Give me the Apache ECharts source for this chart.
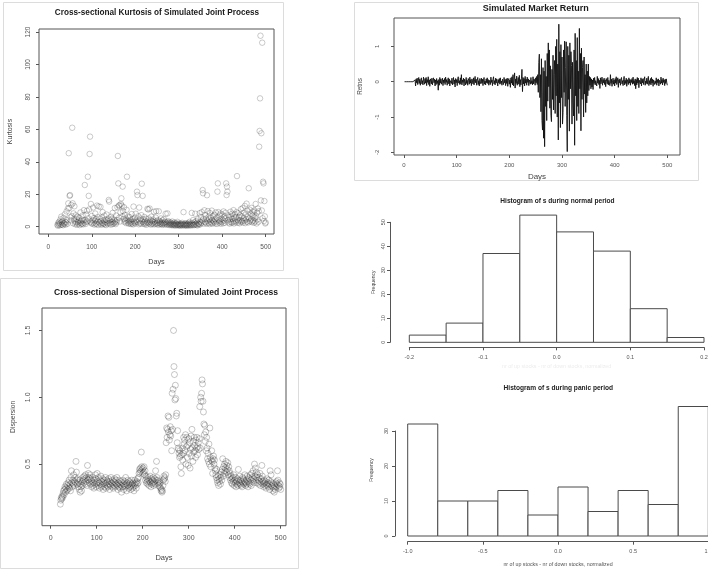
<!DOCTYPE html>
<html><head><meta charset="utf-8">
<script src="https://cdn.jsdelivr.net/npm/echarts@6/dist/echarts.min.js"></script>
<style>html,body{margin:0;padding:0;background:#fff}#c{width:708px;height:571px}</style>
</head><body><div id="c"></div>
<script>
// ---------------- data ----------------
const kurtStartDay = 21;
const kurtosis = [
1.2,0.6,2.4,1.5,3.0,0.8,2.1,4.5,1.1,6.2,
2.8,1.4,3.6,0.9,5.4,2.2,1.7,7.6,3.0,1.3,
2.6,9.4,4.1,1.8,11.2,14.4,45.3,11.4,19.0,19.5,
5.8,3.9,13.4,6.5,61.0,14.4,2.1,8.2,4.6,12.6,
3.2,1.5,7.0,2.6,4.8,1.2,6.1,2.9,1.9,3.7,
5.5,1.0,2.4,8.8,3.3,1.6,4.4,2.0,6.9,1.4,
3.8,10.2,2.5,25.7,4.1,1.7,7.4,2.9,9.8,3.5,
30.8,5.2,19.0,10.6,44.8,55.5,3.1,14.0,2.2,6.6,
1.8,4.0,11.8,2.6,5.3,1.3,3.7,8.1,2.0,4.6,
1.5,13.0,3.2,6.0,1.1,12.5,2.7,4.9,1.9,12.2,
3.4,1.2,5.7,2.3,9.0,1.6,3.9,2.1,6.8,1.4,
2.9,4.3,1.0,7.5,2.5,3.6,1.8,5.0,16.5,15.5,
2.2,3.9,1.3,6.2,2.8,4.7,1.5,8.5,3.0,1.9,
4.4,2.4,11.5,3.3,1.6,6.9,2.7,4.1,12.0,43.6,
26.7,13.0,5.5,13.2,3.2,8.8,14.0,17.5,13.0,6.4,
24.7,9.6,4.8,12.0,2.9,7.2,3.6,5.1,2.2,10.4,
30.8,4.0,2.6,6.3,1.8,3.5,5.9,2.3,4.2,1.6,
3.0,7.8,2.0,4.6,1.4,12.4,3.3,2.5,5.6,1.9,
8.0,3.1,4.2,21.6,19.5,2.7,6.4,1.5,11.8,3.8,
2.3,5.0,1.7,7.1,26.5,3.2,19.0,4.5,1.9,2.8,
6.0,1.5,3.7,2.2,4.9,1.2,3.0,11.0,2.4,10.6,
5.1,1.8,11.2,2.9,4.0,1.3,6.2,2.1,3.5,1.6,
4.4,2.7,9.2,1.4,3.1,2.0,5.6,9.6,1.8,3.6,
2.3,1.2,4.0,9.5,2.6,1.5,3.3,2.0,5.1,1.7,
2.8,1.1,3.9,2.2,1.6,4.6,2.4,1.3,3.0,8.0,
1.9,2.7,1.2,8.2,3.4,1.6,2.3,1.0,2.9,1.8,
1.3,2.4,0.9,1.7,3.2,1.1,2.0,0.8,1.5,2.6,
1.0,1.8,0.7,2.2,1.4,0.9,3.0,1.2,1.6,0.8,
2.0,1.1,0.6,1.5,1.9,0.9,1.3,2.4,0.8,1.6,
9.0,1.2,0.7,1.8,1.0,2.1,0.9,1.4,0.6,1.7,
1.1,2.3,0.8,1.5,3.0,1.0,1.9,0.7,1.3,8.5,
2.2,1.0,4.1,1.6,0.9,2.8,1.2,8.0,1.8,3.4,
1.1,2.5,0.8,4.6,1.7,2.0,1.3,8.3,3.0,1.5,
6.0,2.4,9.0,3.8,22.6,20.6,4.9,1.9,10.1,3.1,
7.2,2.6,5.0,1.8,19.4,3.7,9.6,2.3,6.1,4.4,
1.6,8.4,3.0,5.7,2.2,9.9,4.1,1.9,6.6,3.5,
2.8,7.3,4.6,2.0,8.8,3.2,5.4,1.7,21.6,26.7,
9.0,4.0,2.5,6.9,3.3,8.1,1.8,5.0,2.9,7.5,
4.2,2.1,9.4,3.6,6.3,2.4,5.1,8.6,26.7,19.5,
24.7,21.6,3.9,7.0,2.6,5.8,1.9,4.5,9.2,3.0,
6.4,2.3,8.0,4.7,3.1,10.2,2.0,5.5,7.7,3.6,
2.7,6.1,9.0,31.2,4.2,2.4,8.3,3.4,5.9,2.1,
7.1,4.0,10.8,2.9,6.5,3.6,11.5,2.5,5.3,8.7,
3.8,12.8,2.2,7.6,4.5,14.2,3.1,9.8,6.0,2.6,
23.7,5.1,10.5,3.4,8.0,4.3,11.6,2.8,6.7,9.3,
3.7,7.4,2.4,10.0,5.6,3.2,14.0,6.3,2.0,8.6,
4.4,11.2,3.0,9.5,49.3,59.0,79.1,117.7,16.2,57.6,
10.0,113.4,5.2,27.7,26.7,3.5,15.8,6.4,2.0,2.6
];

const dispStartDay = 21;
const dispersion = [
0.20,0.23,0.25,0.24,0.26,0.25,0.28,0.30,0.27,0.31,
0.33,0.29,0.32,0.35,0.30,0.34,0.31,0.36,0.33,0.38,
0.32,0.35,0.30,0.40,0.45,0.36,0.33,0.38,0.35,0.42,
0.34,0.37,0.40,0.36,0.52,0.44,0.38,0.35,0.39,0.33,
0.36,0.31,0.38,0.29,0.35,0.33,0.30,0.37,0.34,0.40,
0.38,0.36,0.41,0.39,0.35,0.42,0.37,0.40,0.34,0.49,
0.38,0.43,0.40,0.36,0.39,0.42,0.35,0.38,0.33,0.37,
0.40,0.34,0.36,0.32,0.38,0.35,0.42,0.39,0.33,0.36,
0.43,0.37,0.34,0.40,0.36,0.32,0.38,0.35,0.41,0.33,
0.37,0.34,0.39,0.31,0.36,0.38,0.33,0.35,0.40,0.32,
0.36,0.38,0.34,0.37,0.33,0.39,0.35,0.31,0.37,0.34,
0.40,0.36,0.33,0.38,0.35,0.32,0.37,0.34,0.39,0.36,
0.33,0.38,0.35,0.40,0.34,0.31,0.36,0.33,0.38,0.35,
0.32,0.37,0.34,0.29,0.36,0.33,0.38,0.35,0.31,0.34,
0.37,0.33,0.40,0.35,0.30,0.36,0.34,0.38,0.32,0.35,
0.37,0.33,0.36,0.31,0.34,0.38,0.35,0.32,0.36,0.33,
0.30,0.35,0.38,0.34,0.36,0.32,0.37,0.35,0.39,0.36,
0.40,0.43,0.46,0.44,0.47,0.45,0.59,0.48,0.46,0.43,
0.47,0.44,0.48,0.42,0.45,0.38,0.41,0.36,0.39,0.37,
0.35,0.40,0.38,0.34,0.37,0.41,0.36,0.33,0.39,0.35,
0.38,0.36,0.40,0.34,0.37,0.39,0.35,0.45,0.38,0.52,
0.40,0.36,0.38,0.34,0.37,0.35,0.33,0.36,0.32,0.30,
0.31,0.29,0.30,0.34,0.38,0.41,0.39,0.40,0.37,0.42,
0.66,0.77,0.70,0.76,0.86,0.74,0.85,0.68,0.72,0.78,
0.71,0.75,0.60,1.03,0.76,1.06,1.50,1.23,1.17,0.98,
1.09,0.99,0.86,0.88,0.66,0.75,0.62,0.61,0.58,0.55,
0.60,0.56,0.48,0.43,0.57,0.62,0.53,0.58,0.70,0.65,
0.68,0.60,0.72,0.50,0.63,0.70,0.55,0.64,0.49,0.69,
0.58,0.66,0.47,0.61,0.71,0.56,0.76,0.62,0.52,0.67,
0.59,0.70,0.64,0.60,0.55,0.68,0.62,0.70,0.57,0.63,
0.66,0.61,0.69,0.93,0.62,1.00,0.97,1.03,1.13,1.10,
0.97,0.89,0.80,0.72,0.79,0.67,0.74,0.60,0.70,0.62,
0.54,0.58,0.52,0.65,0.50,0.77,0.55,0.48,0.53,0.60,
0.52,0.43,0.54,0.56,0.50,0.53,0.47,0.45,0.42,0.40,
0.46,0.38,0.36,0.41,0.34,0.39,0.37,0.42,0.35,0.40,
0.44,0.38,0.46,0.54,0.41,0.48,0.43,0.50,0.45,0.47,
0.52,0.44,0.49,0.46,0.51,0.42,0.48,0.45,0.40,0.43,
0.38,0.41,0.36,0.39,0.35,0.40,0.37,0.42,0.34,0.38,
0.36,0.40,0.33,0.37,0.35,0.39,0.34,0.46,0.38,0.36,
0.41,0.35,0.38,0.34,0.37,0.33,0.40,0.36,0.39,0.35,
0.37,0.42,0.36,0.34,0.38,0.35,0.41,0.37,0.33,0.40,
0.36,0.39,0.35,0.42,0.38,0.34,0.43,0.40,0.37,0.45,
0.39,0.36,0.50,0.41,0.47,0.38,0.44,0.40,0.36,0.42,
0.38,0.35,0.40,0.37,0.43,0.34,0.39,0.36,0.49,0.41,
0.37,0.35,0.33,0.38,0.36,0.34,0.37,0.32,0.35,0.39,
0.34,0.36,0.33,0.38,0.35,0.31,0.45,0.37,0.42,0.34,
0.36,0.33,0.30,0.35,0.32,0.29,0.34,0.31,0.36,0.33,
0.37,0.35,0.45,0.38,0.34,0.32,0.36,0.33,0.35,0.31
];

const retStartDay = 1;
const marketReturn = [
0,0,0,0,0,0,0,0,0,0,
0,0,0,0,0,0,0,0,0,0,
0.05,-0.12,0.08,-0.03,0.10,-0.08,0.02,0.12,-0.05,0.07,
-0.10,0.04,0.11,-0.06,0.03,-0.09,0.13,0.01,-0.07,0.09,
-0.04,0.12,-0.11,0.06,-0.02,0.14,-0.08,0.05,-0.13,0.08,
0.02,-0.06,0.10,-0.09,0.04,0.11,-0.03,0.07,-0.12,0.05,
-0.08,0.09,-0.05,0.03,-0.24,0.06,-0.10,0.12,-0.04,0.08,
-0.07,0.02,0.10,-0.11,0.05,-0.03,0.09,-0.08,0.13,-0.02,
0.06,-0.10,0.04,0.11,-0.06,0.08,-0.12,0.03,0.07,-0.05,
0.10,-0.09,0.02,0.12,-0.07,0.05,-0.15,0.09,-0.03,0.06,
-0.11,0.08,0.14,-0.04,0.03,-0.08,0.11,-0.06,0.20,-0.09,
0.05,-0.02,0.10,-0.12,0.07,0.01,-0.09,0.12,-0.05,0.04,
-0.10,0.09,0.03,-0.07,0.13,-0.04,0.06,-0.11,0.08,0.02,
-0.06,0.11,-0.09,0.05,0.15,-0.03,0.07,-0.10,0.04,0.12,
-0.08,0.03,-0.12,0.09,0.01,-0.06,0.10,-0.04,0.07,-0.11,
0.05,0.12,-0.07,0.02,-0.09,0.08,-0.03,0.11,-0.05,0.06,
-0.10,0.04,0.09,-0.08,0.13,-0.02,0.05,-0.11,0.07,0.14,
-0.06,0.03,-0.09,0.10,-0.04,0.08,0.01,-0.12,0.06,-0.03,
0.09,-0.07,0.11,-0.05,0.02,-0.10,0.07,0.04,-0.08,0.12,
-0.03,0.06,-0.11,0.08,-0.05,0.10,-0.13,0.03,0.09,-0.07,
0.05,-0.16,0.11,-0.04,0.14,-0.09,0.20,-0.12,0.06,0.25,
-0.18,0.08,-0.05,0.16,-0.10,0.03,0.12,-0.07,0.18,-0.14,
0.06,-0.09,0.10,0.35,-0.28,0.12,-0.06,0.09,-0.12,0.15,
-0.04,0.07,-0.10,0.13,-0.02,0.08,-0.11,0.05,0.10,-0.07,
0.12,-0.05,0.03,-0.09,0.14,-0.06,0.08,0.02,-0.10,0.11,
-0.03,0.15,-0.08,0.20,
-0.30,0.55,0.78,-0.45,0.20,-0.85,0.65,-1.10,-1.37,0.40,
-1.60,0.30,-1.84,0.60,-0.70,0.15,-1.10,0.80,-0.55,1.10,
-0.14,0.90,-0.75,0.45,-0.95,-1.13,0.35,-0.50,0.75,-0.80,
0.20,0.60,-0.90,1.00,-0.40,1.20,-1.00,0.50,-1.65,1.63,
-0.60,0.85,-1.30,1.05,-0.45,0.70,-1.20,-0.87,0.90,-0.30,
1.15,-0.70,0.40,1.13,-0.95,-1.98,1.00,-0.50,0.75,-1.40,
1.10,-0.20,0.85,0.46,-1.20,0.55,-0.60,-0.97,0.90,-1.80,
1.37,-0.40,0.60,-1.10,1.25,-0.70,0.30,-0.90,1.51,-0.20,
0.80,-1.39,0.95,-0.50,0.40,0.60,-1.00,0.70,-0.35,0.20,
-0.87,0.50,-0.60,0.30,-0.40,0.50,-0.25,0.15,-0.10,0.12,
-0.20,0.08,-0.15,0.05,-0.22,0.10,
-0.05,0.12,-0.09,0.03,0.07,-0.12,0.15,-0.04,0.09,-0.08,
0.04,-0.19,0.11,-0.06,0.02,0.13,-0.10,0.06,-0.03,0.10,
-0.08,0.05,-0.14,0.09,0.01,-0.06,0.12,-0.09,0.04,0.08,
-0.11,0.20,-0.05,0.07,-0.13,0.03,0.10,-0.07,0.05,-0.12,
0.09,-0.04,0.14,-0.08,0.02,0.11,-0.16,0.06,-0.03,0.08,
-0.10,0.05,0.12,-0.06,0.03,-0.11,0.07,0.15,-0.09,0.04,
-0.05,0.10,-0.13,0.06,0.01,-0.08,0.11,-0.04,0.07,-0.10,
0.05,-0.02,0.09,-0.07,0.13,-0.05,0.03,-0.11,0.08,-0.20,
0.06,-0.09,0.12,-0.04,0.10,-0.17,0.04,0.08,-0.06,0.11,
-0.12,0.07,-0.03,0.09,-0.08,0.05,0.14,-0.10,0.02,-0.05,
0.10,-0.07,0.06,0.15,-0.11,0.03,-0.06,0.09,-0.09,0.12,
-0.04,0.07,-0.13,0.05,0.10,-0.08,0.02,-0.05,0.11,-0.10,
0.06,-0.03,0.08,-0.12,0.04,0.09,-0.07,0.13,-0.04,0.06,
-0.09,0.10,-0.02,0.05,-0.11,0.07,-0.05,0.08,-0.03,-0.10
];

const dayTicks = [0, 100, 200, 300, 400, 500];
const kurtTicks = [0, 20, 40, 60, 80, 100, 120];
const dispTicks = [0.5, 1.0, 1.5];
const retTicks = [-2, -1, 0, 1];

const normalBinEdges = [-0.2, -0.15, -0.1, -0.05, 0, 0.05, 0.1, 0.15, 0.2];
const normalCounts = [3, 8, 37, 53, 46, 38, 14, 2];
const normalXTicks = [-0.2, -0.1, 0, 0.1, 0.2];
const normalYTicks = [0, 10, 20, 30, 40, 50];

const panicBinEdges = [-1, -0.8, -0.6, -0.4, -0.2, 0, 0.2, 0.4, 0.6, 0.8, 1];
const panicCounts = [32, 10, 10, 13, 6, 14, 7, 13, 9, 37];
const panicXTicks = [-1, -0.5, 0, 0.5, 1];
const panicYTicks = [0, 10, 20, 30];

const titles = {
  kurt: 'Cross-sectional Kurtosis of Simulated Joint Process',
  disp: 'Cross-sectional Dispersion of Simulated Joint Process',
  ret: 'Simulated Market Return',
  normal: 'Histogram of s during normal period',
  panic: 'Histogram of s during panic period'
};
const xName = 'nr of up stocks - nr of down stocks, normalized';

// ---------------- chart ----------------
const F = '"Liberation Sans", Arial, Helvetica, sans-serif';
const fmt1 = v => Number(v).toFixed(1);

function mkAxis(o) {
  return {
    type: 'value', gridIndex: o.grid, min: o.min, max: o.max, offset: o.offset || 0,
    splitLine: { show: false },
    axisLine: { show: !!o.line, onZero: false, lineStyle: { color: '#555', width: 1 } },
    axisTick: { show: true, length: o.tickLen || 3, customValues: o.ticks, lineStyle: { color: '#555', width: 1 } },
    axisLabel: { show: true, customValues: o.ticks, margin: o.margin, rotate: o.rotate || 0,
      color: '#555', fontSize: o.fs, fontFamily: F, formatter: o.fmt || (v => String(v)) },
    name: o.name || '', nameLocation: 'middle', nameGap: o.nameGap || 0,
    nameTextStyle: { color: o.nameColor || '#444', fontSize: o.nfs || 7, fontFamily: F }
  };
}

function histSeries(edges, counts, idx) {
  return {
    type: 'custom', xAxisIndex: idx, yAxisIndex: idx, clip: false, silent: true,
    data: counts.map((c, i) => [edges[i], edges[i + 1], c]),
    encode: { x: [0, 1], y: 2 },
    renderItem(params, api) {
      const p0 = api.coord([api.value(0), api.value(2)]);
      const p1 = api.coord([api.value(1), 0]);
      return { type: 'rect',
        shape: { x: p0[0], y: p0[1], width: p1[0] - p0[0], height: p1[1] - p0[1] },
        style: { fill: '#fff', stroke: '#4a4a4a', lineWidth: 1 } };
    }
  };
}

const gridBase = { show: true, borderColor: '#555', borderWidth: 1, backgroundColor: 'transparent', outerBoundsMode: 'none', containLabel: false };

const option = {
  animation: false,
  backgroundColor: '#fff',
  grid: [
    Object.assign({}, gridBase, { left: 39, top: 29, width: 235, height: 205 }),
    Object.assign({}, gridBase, { left: 42, top: 308, width: 244, height: 217.7 }),
    Object.assign({}, gridBase, { left: 394, top: 18, width: 286, height: 137 }),
    Object.assign({}, gridBase, { show: false, left: 409.3, top: 222.3, width: 294.7, height: 120 }),
    Object.assign({}, gridBase, { show: false, left: 407.7, top: 431, width: 300.6, height: 105 })
  ],
  xAxis: [
    mkAxis({ grid: 0, min: -21.39, max: 519.1, ticks: dayTicks, margin: 10, fs: 6.5, name: 'Days', nameGap: 25, nfs: 7.2 }),
    mkAxis({ grid: 1, min: -18.9, max: 511.5, ticks: dayTicks, margin: 8.5, fs: 7, name: 'Days', nameGap: 28, nfs: 7.5 }),
    mkAxis({ grid: 2, min: -19, max: 524.1, ticks: dayTicks, margin: 7.5, fs: 6, name: 'Days', nameGap: 17.5, nfs: 8 }),
    mkAxis({ grid: 3, min: -0.2, max: 0.2, offset: 5, line: true, ticks: normalXTicks, margin: 7.5, fs: 5.5, fmt: fmt1, name: xName, nameGap: 16.5, nfs: 5.3, nameColor: '#ececec' }),
    mkAxis({ grid: 4, min: -1, max: 1, offset: 5.7, line: true, ticks: panicXTicks, margin: 7, fs: 5.5, fmt: fmt1, name: xName, nameGap: 20.5, nfs: 5.3, nameColor: '#555' })
  ],
  yAxis: [
    mkAxis({ grid: 0, min: -4.5, max: 121.85, ticks: kurtTicks, rotate: 90, margin: 7.5, fs: 6.5, name: 'Kurtosis', nameGap: 25, nfs: 7 }),
    mkAxis({ grid: 1, min: 0.039, max: 1.668, ticks: dispTicks, rotate: 90, margin: 10.5, fs: 7, fmt: fmt1, name: 'Dispersion', nameGap: 25.5, nfs: 6.8 }),
    mkAxis({ grid: 2, min: -2.076, max: 1.805, ticks: retTicks, rotate: 90, margin: 14, fs: 6, name: 'Retns', nameGap: 30.5, nfs: 6.4 }),
    mkAxis({ grid: 3, min: 0, max: 50, offset: 19.3, line: true, ticks: normalYTicks, rotate: 90, margin: 4, fs: 5.5, name: 'Frequency', nameGap: 13.5, nfs: 5 }),
    mkAxis({ grid: 4, min: 0, max: 30, offset: 12.7, line: true, ticks: panicYTicks, rotate: 90, margin: 5.5, fs: 5.5 })
  ],
  series: [
    { type: 'scatter', xAxisIndex: 0, yAxisIndex: 0, symbol: 'circle', symbolSize: 5.5, silent: true,
      data: kurtosis.map((v, i) => [kurtStartDay + i, v]),
      itemStyle: { color: 'rgba(255,255,255,0)', borderColor: 'rgba(40,40,40,0.3)', borderWidth: 1 } },
    { type: 'scatter', xAxisIndex: 1, yAxisIndex: 1, symbol: 'circle', symbolSize: 6, silent: true,
      data: dispersion.map((v, i) => [dispStartDay + i, v]),
      itemStyle: { color: 'rgba(255,255,255,0)', borderColor: 'rgba(40,40,40,0.32)', borderWidth: 1 } },
    { type: 'line', xAxisIndex: 2, yAxisIndex: 2, showSymbol: false, symbol: 'none', silent: true,
      data: marketReturn.map((v, i) => [retStartDay + i, v]),
      lineStyle: { color: '#111', width: 0.9 } },
    histSeries(normalBinEdges, normalCounts, 3),
    histSeries(panicBinEdges, panicCounts, 4)
  ],
  graphic: [
    { type: 'rect', shape: { x: 3.5, y: 2.5, width: 280, height: 268 }, style: { fill: 'none', stroke: '#dcdcdc', lineWidth: 1 }, z: -10 },
    { type: 'rect', shape: { x: 0.5, y: 278.5, width: 298, height: 290 }, style: { fill: 'none', stroke: '#dcdcdc', lineWidth: 1 }, z: -10 },
    { type: 'rect', shape: { x: 354.5, y: 2.5, width: 344, height: 178 }, style: { fill: 'none', stroke: '#dcdcdc', lineWidth: 1 }, z: -10 },
    { type: 'text', x: 157, y: 12.3, style: { text: titles.kurt, fontFamily: F, fontSize: 8.2, fontWeight: 'bold', fill: '#1a1a1a', align: 'center', verticalAlign: 'middle' } },
    { type: 'text', x: 166, y: 292.7, style: { text: titles.disp, fontFamily: F, fontSize: 8.6, fontWeight: 'bold', fill: '#1a1a1a', align: 'center', verticalAlign: 'middle' } },
    { type: 'text', x: 535.8, y: 8.5, style: { text: titles.ret, fontFamily: F, fontSize: 9, fontWeight: 'bold', fill: '#1a1a1a', align: 'center', verticalAlign: 'middle' } },
    { type: 'text', x: 557.5, y: 201, style: { text: titles.normal, fontFamily: F, fontSize: 6.6, fontWeight: 'bold', fill: '#222', align: 'center', verticalAlign: 'middle' } },
    { type: 'text', x: 558.3, y: 388.3, style: { text: titles.panic, fontFamily: F, fontSize: 6.6, fontWeight: 'bold', fill: '#222', align: 'center', verticalAlign: 'middle' } },
    { type: 'text', x: 371.7, y: 470, rotation: Math.PI / 2, style: { text: 'Frequency', fontFamily: F, fontSize: 5, fill: '#444', align: 'center', verticalAlign: 'middle' } }
  ]
};

const chart = echarts.init(document.getElementById('c'), null, { renderer: 'canvas' });
chart.setOption(option);
</script>
</body></html>
